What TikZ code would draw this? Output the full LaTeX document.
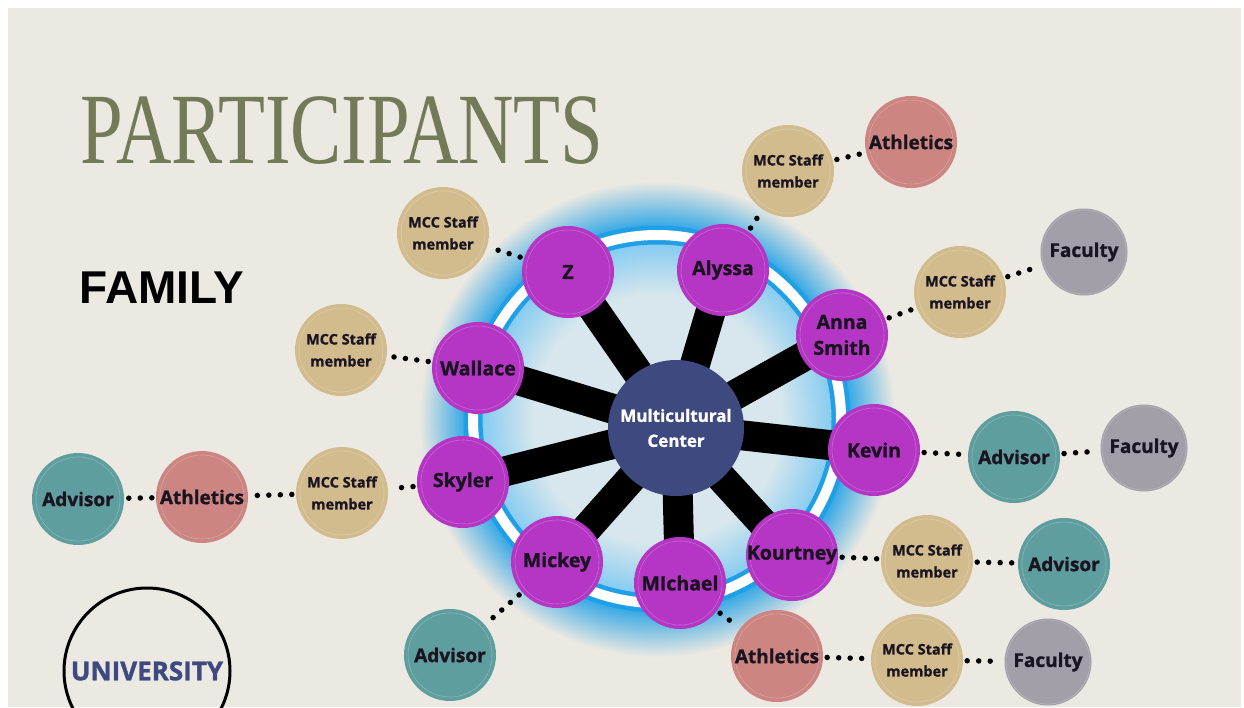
\documentclass[tikz,border=0pt]{standalone}
\usepackage{fontspec}
\setmainfont{Open Sans}[BoldFeatures={FakeBold=1.2}]
\newfontfamily\headfont{Liberation Sans}
\newfontfamily\titlefont{Liberation Serif}

\definecolor{paper}{HTML}{ECE9E2}
\definecolor{olive}{HTML}{737A58}
\definecolor{ink}{HTML}{1A1420}
\definecolor{hubblue}{HTML}{3E4A7F}
\definecolor{plum}{HTML}{B536C5}
\definecolor{sand}{HTML}{D2BC8E}
\definecolor{rose}{HTML}{CC8580}
\definecolor{slate}{HTML}{A39EA7}
\definecolor{seagreen}{HTML}{5F9E9F}
\definecolor{ringblue}{HTML}{1FA0E6}
\definecolor{glowin}{HTML}{D8E7ED}

\pgfdeclareradialshading{halo}{\pgfpoint{0bp}{0bp}}{color(0bp)=(glowin); color(13bp)=(glowin); color(18.6bp)=(ringblue!55!white); color(19.6bp)=(ringblue); color(21.2bp)=(ringblue!70!paper); color(25bp)=(paper); color(50bp)=(paper)}

\pgfdeclarelayer{back}
\pgfdeclarelayer{spokes}
\pgfsetlayers{back,spokes,main}

\tikzset{
	bubble/.style={circle, fill=#1, minimum size=92pt, inner sep=0pt, align=center, text=ink,
		path picture={\draw[#1!75!white, line width=.6pt] (path picture bounding box.center) circle (42pt);}},
	person/.style={bubble=plum, font=\bfseries\fontsize{19.5}{26}\selectfont},
	staff/.style={bubble=sand, font=\bfseries\fontsize{14.5}{22}\selectfont},
	athletics/.style={bubble=rose, font=\bfseries\fontsize{19}{22}\selectfont},
	faculty/.style={bubble=slate, minimum size=87pt, font=\bfseries\fontsize{19}{22}\selectfont},
	advisor/.style={bubble=seagreen, font=\bfseries\fontsize{19}{22}\selectfont},
	spoke/.style={line width=30pt, black},
	dotlink/.style={line width=5.5pt, line cap=round, dash pattern=on 0pt off 11.5pt, shorten <=4pt, shorten >=4pt},
}

\begin{document}
\begin{tikzpicture}[x=1pt, y=-1pt]
	\useasboundingbox (0,0) rectangle (1244,707);
	\clip (0,0) rectangle (1244,707);

	\begin{pgfonlayer}{back}
	\fill[white] (0,0) rectangle (1244,707);
	\fill[paper] (8,8) rectangle (1241,707);
	\shade[shading=halo] (657,419) circle (238);
	\draw[ringblue, line width=19pt] (657,419) circle (184);
	\draw[white, line width=10pt] (657,419) circle (184);
	\end{pgfonlayer}

	\node[font=\titlefont\fontsize{101}{101}\selectfont, text=olive] (title) at (342,131) {\scalebox{0.76}[1]{PARTICIPANTS}};
	\node[font=\headfont\bfseries\fontsize{46}{50}\selectfont, text=black] (family) at (162,288) {FAMILY};
	\node[circle, draw=black, line width=3pt, minimum size=166pt, inner sep=0pt, text=hubblue,
		font=\bfseries\fontsize{26}{30}\selectfont] (university) at (147,671) {UNIVERSITY};

	\node[circle, fill=hubblue, minimum size=136pt, inner sep=0pt, align=center, text=white,
		font=\bfseries\fontsize{17}{25}\selectfont] (hub) at (676,428) {Multicultural\\Center};

	\node[person] (z) at (568,272) {Z};
	\node[person] (alyssa) at (723,270) {Alyssa};
	\node[person] (anna) at (842,335) {Anna\\Smith};
	\node[person] (kevin) at (874,450) {Kevin};
	\node[person] (kourtney) at (792,555) {Kourtney};
	\node[person] (michael) at (680,583) {MIchael};
	\node[person] (mickey) at (557,562) {Mickey};
	\node[person] (skyler) at (463,482) {Skyler};
	\node[person] (wallace) at (478,368) {Wallace};

	\node[staff] (staffz) at (443,233) {MCC Staff\\member};
	\node[staff] (staffalyssa) at (788,171) {MCC Staff\\member};
	\node[staff] (staffanna) at (960,292) {MCC Staff\\member};
	\node[staff] (staffwallace) at (341,350) {MCC Staff\\member};
	\node[staff] (staffskyler) at (342,493) {MCC Staff\\member};
	\node[staff] (staffkourtney) at (927,561) {MCC Staff\\member};
	\node[staff] (staffmichael) at (917,660) {MCC Staff\\member};

	\node[athletics] (athtop) at (911,142) {Athletics};
	\node[athletics] (athleft) at (202,497) {Athletics};
	\node[athletics] (athbottom) at (777,656) {Athletics};

	\node[faculty] (factop) at (1084,252) {Faculty};
	\node[faculty] (fackevin) at (1144,448) {Faculty};
	\node[faculty] (facbottom) at (1048,662) {Faculty};

	\node[advisor] (advkevin) at (1014,457) {Advisor};
	\node[advisor] (advkourtney) at (1064,564) {Advisor};
	\node[advisor] (advleft) at (78,499) {Advisor};
	\node[advisor] (advmickey) at (450,655) {Advisor};

	\begin{pgfonlayer}{spokes}
	\foreach \p in {z,alyssa,anna,kevin,kourtney,michael,mickey,skyler,wallace}
		\draw[spoke] (hub.center) -- (\p.center);
	\end{pgfonlayer}

	\draw[dotlink] (z) -- (staffz);
	\draw[dotlink] (alyssa) -- (staffalyssa);
	\draw[dotlink] (staffalyssa) -- (athtop);
	\draw[dotlink] (anna) -- (staffanna);
	\draw[dotlink] (staffanna) -- (factop);
	\draw[dotlink] (wallace) -- (staffwallace);
	\draw[dotlink] (skyler) -- (staffskyler);
	\draw[dotlink] (staffskyler) -- (athleft);
	\draw[dotlink] (athleft) -- (advleft);
	\draw[dotlink] (kevin) -- (advkevin);
	\draw[dotlink] (advkevin) -- (fackevin);
	\draw[dotlink] (kourtney) -- (staffkourtney);
	\draw[dotlink] (staffkourtney) -- (advkourtney);
	\draw[dotlink] (mickey) -- (advmickey);
	\draw[dotlink] (michael) -- (athbottom);
	\draw[dotlink] (athbottom) -- (staffmichael);
	\draw[dotlink] (staffmichael) -- (facbottom);
\end{tikzpicture}
\end{document}
